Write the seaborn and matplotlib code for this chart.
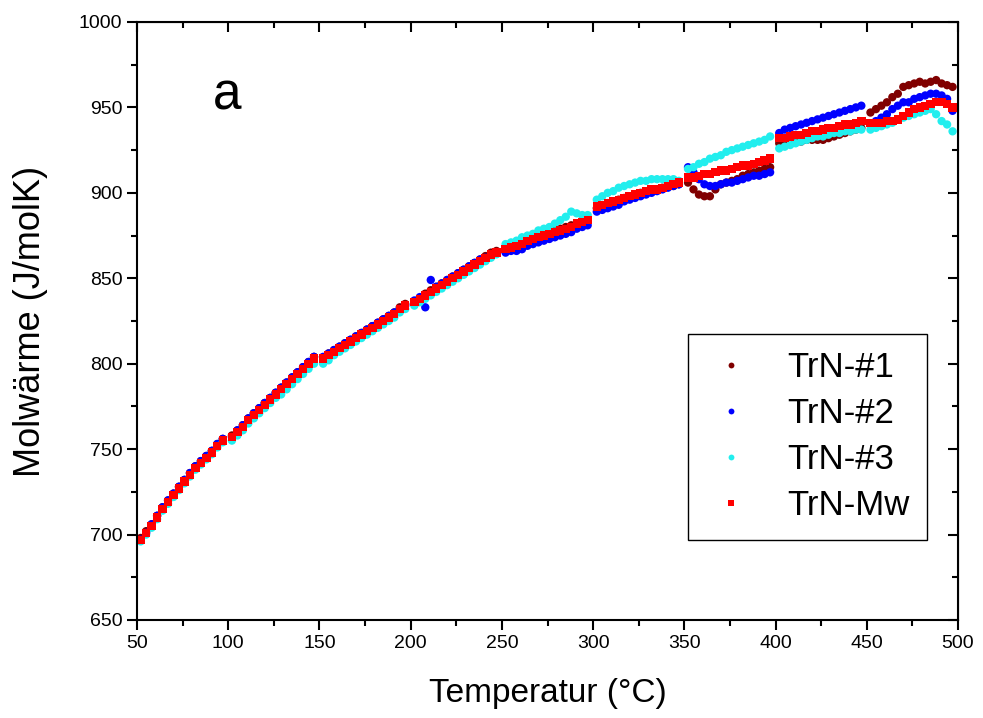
import pandas as pd
import matplotlib
matplotlib.use("Agg")
import matplotlib.pyplot as plt
from matplotlib.ticker import MultipleLocator
import seaborn as sns

# measurement temperatures (°C), nine 50-degree runs
temps = [52, 55, 58, 61, 64, 67, 70, 73, 76, 79, 82, 85, 88, 91, 94, 97,
         102, 105, 108, 111, 114, 117, 120, 123, 126, 129, 132, 135, 138, 141, 144, 147,
         152, 155, 158, 161, 164, 167, 170, 173, 176, 179, 182, 185, 188, 191, 194, 197,
         202, 205, 208, 211, 214, 217, 220, 223, 226, 229, 232, 235, 238, 241, 244, 247,
         252, 255, 258, 261, 264, 267, 270, 273, 276, 279, 282, 285, 288, 291, 294, 297,
         302, 305, 308, 311, 314, 317, 320, 323, 326, 329, 332, 335, 338, 341, 344, 347,
         352, 355, 358, 361, 364, 367, 370, 373, 376, 379, 382, 385, 388, 391, 394, 397,
         402, 405, 408, 411, 414, 417, 420, 423, 426, 429, 432, 435, 438, 441, 444, 447,
         452, 455, 458, 461, 464, 467, 470, 473, 476, 479, 482, 485, 488, 491, 494, 497]

trn_1 = [698, 702, 706, 711, 716, 720, 724, 728, 732, 736, 740, 743, 746, 749, 753, 756,
         758, 761, 764, 768, 771, 774, 777, 780, 783, 786, 789, 792, 795, 798, 801, 804,
         803, 806, 808, 810, 812, 814, 816, 818, 820, 822, 824, 826, 828, 830, 833, 835,
         836, 838, 841, 843, 845, 847, 849, 851, 853, 855, 857, 859, 861, 863, 865, 866,
         868, 869, 870, 871, 872, 874, 875, 876, 877, 878, 879, 880, 881, 882, 884, 885,
         891, 892, 894, 895, 896, 897, 898, 899, 900, 900, 901, 902, 903, 904, 904, 905,
         906, 902, 899, 898, 898, 902, 905, 906, 907, 908, 910, 911, 912, 913, 914, 915,
         929, 929, 930, 930, 930, 931, 931, 931, 931, 932, 933, 934, 935, 936, 937, 938,
         947, 949, 951, 953, 956, 958, 962, 963, 964, 965, 964, 965, 966, 964, 963, 962]

trn_2 = [697, 701, 706, 711, 716, 720, 724, 728, 732, 736, 740, 743, 746, 749, 753, 756,
         757, 761, 764, 768, 771, 774, 777, 780, 783, 786, 789, 792, 795, 798, 801, 804,
         804, 806, 808, 810, 812, 814, 816, 818, 820, 822, 824, 826, 828, 830, 832, 834,
         837, 839, 833, 849, 845, 847, 849, 851, 853, 855, 857, 859, 861, 862, 864, 865,
         865, 866, 866, 867, 869, 870, 871, 872, 873, 874, 875, 876, 877, 879, 880, 881,
         889, 890, 891, 892, 893, 895, 896, 897, 898, 899, 900, 901, 902, 903, 904, 905,
         915, 912, 908, 905, 904, 904, 905, 906, 906, 907, 908, 909, 910, 910, 911, 912,
         935, 937, 938, 939, 940, 941, 942, 943, 944, 945, 946, 947, 948, 949, 950, 951,
         940, 942, 944, 946, 949, 951, 953, 953, 955, 956, 957, 958, 958, 957, 955, 948]

trn_3 = [696, 700, 704, 709, 714, 718, 722, 726, 730, 734, 738, 741, 744, 747, 751, 754,
         755, 758, 761, 765, 768, 771, 774, 777, 780, 782, 785, 788, 791, 794, 797, 800,
         800, 802, 805, 807, 809, 811, 813, 815, 817, 819, 821, 823, 825, 827, 830, 832,
         834, 836, 838, 840, 842, 844, 846, 848, 850, 852, 854, 856, 858, 860, 862, 864,
         870, 871, 872, 874, 875, 876, 878, 879, 880, 882, 884, 886, 889, 888, 887, 887,
         896, 898, 900, 901, 903, 904, 905, 906, 907, 907, 908, 908, 908, 908, 908, 907,
         914, 915, 917, 918, 920, 921, 922, 924, 925, 926, 927, 928, 929, 930, 931, 933,
         926, 927, 928, 929, 930, 931, 932, 933, 933, 934, 935, 935, 936, 936, 937, 937,
         937, 938, 939, 940, 941, 943, 944, 945, 946, 947, 948, 949, 946, 942, 940, 936]

trn_mw = [697, 701, 705, 710, 715, 719, 723, 727, 731, 735, 739, 742, 745, 748, 752, 755,
          757, 760, 763, 767, 770, 773, 776, 779, 782, 785, 788, 791, 794, 797, 800, 803,
          803, 805, 807, 809, 811, 813, 815, 817, 819, 821, 823, 825, 827, 829, 832, 834,
          836, 838, 840, 842, 844, 846, 848, 850, 852, 854, 856, 858, 860, 862, 864, 865,
          867, 868, 869, 870, 872, 873, 874, 875, 876, 877, 878, 879, 880, 882, 883, 884,
          892, 893, 894, 895, 896, 897, 898, 899, 900, 901, 902, 902, 903, 904, 905, 906,
          909, 909, 910, 911, 911, 912, 913, 913, 914, 915, 916, 916, 917, 918, 919, 920,
          932, 932, 933, 934, 934, 935, 936, 936, 937, 938, 938, 939, 940, 940, 941, 942,
          941, 941, 941, 942, 942, 943, 945, 947, 949, 950, 951, 952, 953, 953, 952, 950]

series_names = ["TrN-#1", "TrN-#2", "TrN-#3", "TrN-Mw"]
series_colors = ["#800000", "#0000ff", "#22eeee", "#ff0000"]
series_markers = ["o", "o", "o", "s"]

frames = []
for name, vals in zip(series_names, [trn_1, trn_2, trn_3, trn_mw]):
    frames.append(pd.DataFrame({"T": temps, "cp": vals, "Probe": name}))
df = pd.concat(frames, ignore_index=True)

sns.set_style("ticks")
plt.rcParams["font.family"] = ["Liberation Sans", "DejaVu Sans"]
for key in ["text.color", "axes.labelcolor", "xtick.color", "ytick.color", "axes.edgecolor"]:
    plt.rcParams[key] = "black"

fig = plt.figure(figsize=(9.83, 7.18), dpi=100)
ax = fig.add_axes([0.1394, 0.1365, 0.8352, 0.8329])

sns.scatterplot(data=df, x="T", y="cp", hue="Probe", style="Probe",
                hue_order=series_names, style_order=series_names,
                palette=dict(zip(series_names, series_colors)),
                markers=dict(zip(series_names, series_markers)),
                s=36, linewidth=0, ax=ax)

ax.set_xlim(50, 500)
ax.set_ylim(650, 1000)
ax.xaxis.set_major_locator(MultipleLocator(50))
ax.xaxis.set_minor_locator(MultipleLocator(25))
ax.yaxis.set_major_locator(MultipleLocator(50))
ax.yaxis.set_minor_locator(MultipleLocator(25))
ax.tick_params(which="major", direction="out", length=7, width=1.5, labelsize=14)
ax.tick_params(which="minor", direction="out", length=4, width=1.5)
for sp in ax.spines.values():
    sp.set_linewidth(1.5)
    sp.set_color("black")

# mirrored axes with inward ticks
top = ax.secondary_xaxis("top")
top.xaxis.set_major_locator(MultipleLocator(50))
top.xaxis.set_minor_locator(MultipleLocator(25))
top.tick_params(which="major", direction="in", length=7, width=1.5, labeltop=False)
top.tick_params(which="minor", direction="in", length=4, width=1.5)
right = ax.secondary_yaxis("right")
right.yaxis.set_major_locator(MultipleLocator(50))
right.yaxis.set_minor_locator(MultipleLocator(25))
right.tick_params(which="major", direction="in", length=7, width=1.5, labelright=False)
right.tick_params(which="minor", direction="in", length=4, width=1.5)

ax.set_xlabel("Temperatur (°C)", fontsize=24, labelpad=19)
ax.set_ylabel("Molwärme (J/molK)", fontsize=26, labelpad=22)
ax.text(0.11, 0.876, "a", transform=ax.transAxes, fontsize=37, ha="center", va="center")

sns.move_legend(ax, "lower right", bbox_to_anchor=(0.962, 0.134), title=None,
                fontsize=25, frameon=True, fancybox=False, markerscale=0.7,
                labelspacing=0.38, handlelength=1.45, handletextpad=0.9,
                borderpad=0.5, borderaxespad=0, edgecolor="black", framealpha=1)
leg = ax.get_legend()
leg.get_frame().set_linewidth(1.0)

fig.savefig("out.png", dpi=100)
